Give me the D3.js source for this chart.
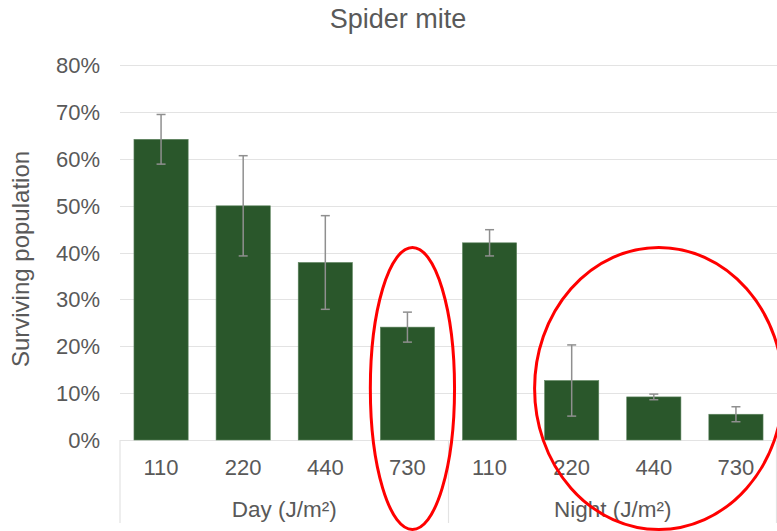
<!DOCTYPE html>
<html>
<head>
<meta charset="utf-8">
<script src="https://cdn.jsdelivr.net/npm/d3@7"></script>
<style>
  body { margin: 0; background: #fff; }
  text { font-family: "Liberation Sans", Arial, sans-serif; fill: #595959; }
</style>
</head>
<body>
<div id="chart"></div>
<script>
// chart values
var title = "Spider mite";
var yLabel = "Surviving population";
var groups = ["Day (J/m\u00b2)", "Night (J/m\u00b2)"];
var doses = ["110", "220", "440", "730"];
var dayValues = [64.2, 50.0, 37.9, 24.1];
var dayErrors = [5.3, 10.7, 10.0, 3.2];
var nightValues = [42.1, 12.7, 9.2, 5.5];
var nightErrors = [2.8, 7.6, 0.6, 1.6];
var yTicks = [0, 10, 20, 30, 40, 50, 60, 70, 80];
// red circles drawn over the chart (group, first dose, last dose)
var highlights = [["Day (J/m\u00b2)", "730", "730"], ["Night (J/m\u00b2)", "220", "730"]];

(function () {
    "use strict";
    var width = 777, height = 531;
    var plotLeft = 120, plotRight = 777, plotTop = 65.3, plotBottom = 440;

    var rows = [];
    groups.forEach(function (g, gi) {
        var vals = gi === 0 ? dayValues : nightValues;
        var errs = gi === 0 ? dayErrors : nightErrors;
        doses.forEach(function (d, i) {
            rows.push({key: g + "|" + d, group: g, dose: d, value: vals[i], err: errs[i]});
        });
    });

    var svg = d3.select("#chart").append("svg")
        .attr("width", width)
        .attr("height", height);

    var x = d3.scaleBand()
        .domain(rows.map(function (d) { return d.key; }))
        .range([plotLeft, plotRight])
        .paddingInner(0.34)
        .paddingOuter(0.17);

    var y = d3.scaleLinear()
        .domain([0, 80])
        .range([plotBottom, plotTop]);

    // gridlines
    svg.append("g").selectAll("line")
        .data(yTicks)
        .enter().append("line")
        .attr("x1", plotLeft).attr("x2", plotRight)
        .attr("y1", function (d) { return Math.round(y(d)) + 0.5; })
        .attr("y2", function (d) { return Math.round(y(d)) + 0.5; })
        .attr("stroke", "#e3e3e3")
        .attr("stroke-width", 1.2);

    // y tick labels
    svg.append("g").selectAll("text")
        .data(yTicks)
        .enter().append("text")
        .attr("x", 100)
        .attr("y", function (d) { return y(d); })
        .attr("dy", "0.36em")
        .attr("text-anchor", "end")
        .style("font-size", "22px")
        .text(function (d) { return d + "%"; });

    // group separators under the axis
    var step = x.step();
    var seps = [plotLeft, plotLeft + step * doses.length, plotRight - 0.5];
    svg.append("g").selectAll("line")
        .data(seps)
        .enter().append("line")
        .attr("x1", function (d) { return d; }).attr("x2", function (d) { return d; })
        .attr("y1", plotBottom).attr("y2", 523)
        .attr("stroke", "#e3e3e3")
        .attr("stroke-width", 1.2);

    // bars
    svg.append("g").selectAll("rect")
        .data(rows)
        .enter().append("rect")
        .attr("x", function (d) { return x(d.key); })
        .attr("y", function (d) { return y(d.value); })
        .attr("width", x.bandwidth())
        .attr("height", function (d) { return plotBottom - y(d.value); })
        .attr("fill", "#2a572b")
        .attr("stroke", "#5f8560")
        .attr("stroke-width", 0.6);

    // error bars
    var eb = svg.append("g").attr("stroke", "#8f8f8f").attr("stroke-width", 1.5);
    rows.forEach(function (d) {
        var cx = x(d.key) + x.bandwidth() / 2;
        eb.append("line").attr("x1", cx).attr("x2", cx)
            .attr("y1", y(d.value + d.err)).attr("y2", y(d.value - d.err));
        [d.value + d.err, d.value - d.err].forEach(function (v) {
            eb.append("line").attr("x1", cx - 4.5).attr("x2", cx + 4.5)
                .attr("y1", y(v)).attr("y2", y(v));
        });
    });

    // category labels
    svg.append("g").selectAll("text")
        .data(rows)
        .enter().append("text")
        .attr("x", function (d) { return x(d.key) + x.bandwidth() / 2; })
        .attr("y", 475)
        .attr("text-anchor", "middle")
        .style("font-size", "22px")
        .text(function (d) { return d.dose; });

    svg.append("g").selectAll("text")
        .data(groups)
        .enter().append("text")
        .attr("x", function (g, i) { return plotLeft + step * doses.length * (i + 0.5); })
        .attr("y", 517)
        .attr("text-anchor", "middle")
        .style("font-size", "22.5px")
        .text(function (g) { return g; });

    // title
    svg.append("text")
        .attr("x", 398)
        .attr("y", 28)
        .attr("text-anchor", "middle")
        .style("font-size", "27px")
        .text(title);

    // y axis title
    svg.append("text")
        .attr("transform", "translate(29,259) rotate(-90)")
        .attr("text-anchor", "middle")
        .style("font-size", "24px")
        .text(yLabel);

    // red highlight ellipses
    function span(h) {
        var a = x(h[0] + "|" + h[1]), b = x(h[0] + "|" + h[2]) + x.bandwidth();
        return [a, b];
    }
    svg.append("g").selectAll("ellipse")
        .data(highlights)
        .enter().append("ellipse")
        .attr("cx", function (h) { var s = span(h); return (s[0] + s[1]) / 2 + 5; })
        .attr("cy", y(11))
        .attr("rx", function (h) { var s = span(h); return (s[1] - s[0]) / 2 + 15; })
        .attr("ry", 141)
        .attr("fill", "none")
        .attr("stroke", "#ff0000")
        .attr("stroke-width", 3);
})();
</script>
</body>
</html>
